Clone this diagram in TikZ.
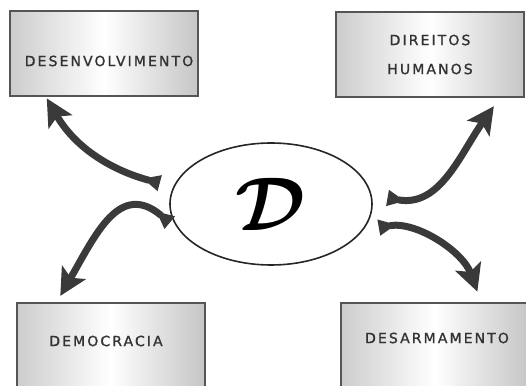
\documentclass[tikz,border=0pt]{standalone}
\usepackage{fontspec}
\usepackage{graphicx}
\usetikzlibrary{arrows.meta,shapes.geometric}
\newfontfamily\boxfont{DejaVu Sans}[LetterSpace=15,FakeBold=1.2]
\definecolor{arrowgrey}{HTML}{3A3A3A}
\definecolor{framegrey}{HTML}{555555}
\definecolor{textgrey}{HTML}{333333}
\newcommand{\nudge}[3]{\hspace*{#1}\raisebox{#2}[\height][\depth]{#3}\hspace*{-#1}}

\begin{document}
\begin{tikzpicture}[x=1pt,y=1pt,
  topic/.style={rectangle,draw=framegrey,line width=2pt,
    left color=gray!40,right color=gray!45,middle color=white,
    minimum width=188pt,minimum height=85pt,inner sep=0pt,
    text=textgrey,font=\boxfont\fontsize{14pt}{16pt}\selectfont},
  swoosh/.style={draw=arrowgrey,line width=7pt,
    {Triangle[reversed,length=18pt,width=15pt]}-{Stealth[length=27pt,width=27pt,inset=6pt]}}]
  \useasboundingbox (0,0) rectangle (526,385);
  \clip (0,0) rectangle (526,385);
  \node[draw=black!85,line width=1.6pt,ellipse,minimum width=202pt,
    minimum height=122pt,inner sep=0pt] (ell) at (271,181)
    {\scalebox{7.6}{\boldmath$\mathcal{D}$}};
  \node[topic] (desenv) at (104,331) {\nudge{5pt}{-7pt}{DESENVOLVIMENTO}};
  \node[topic,align=center] (direitos) at (430,330.5) {DIREITOS\\[13pt]HUMANOS};
  \node[topic] (democ) at (110.5,39.5) {\nudge{-4.5pt}{4.5pt}{DEMOCRACIA}};
  \node[topic] (desarm) at (434.5,39.5) {\nudge{2.5pt}{7.5pt}{DESARMAMENTO}};
  \draw[swoosh,shorten <=14pt,shorten >=1pt] (ell.170) to[out=165,in=-60] (desenv.217);
  \draw[swoosh,shorten <=16pt,shorten >=10pt] (ell.5) to[out=-10,in=235,looseness=1.1] (direitos.328);
  \draw[swoosh,shorten <=12pt,shorten >=7pt] (ell.196) to[out=140,in=60,looseness=1.4] (democ.141);
  \draw[swoosh,shorten <=16pt,shorten >=11pt] (ell.344) to[out=10,in=110] (desarm.43);
\end{tikzpicture}
\end{document}
